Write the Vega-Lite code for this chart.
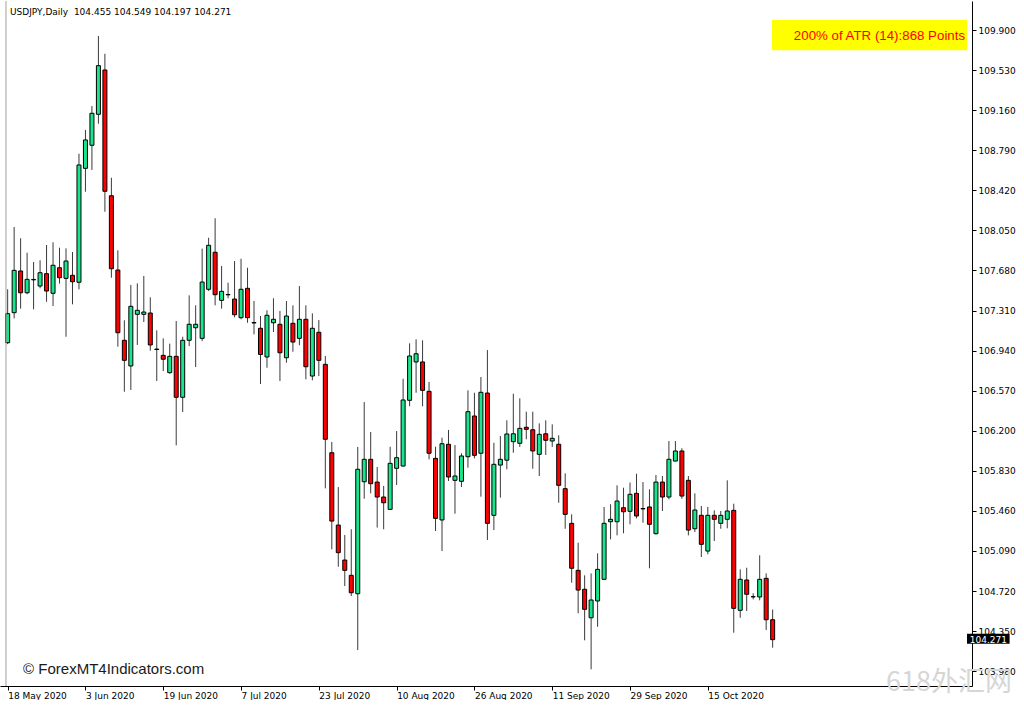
{
  "$schema": "https://vega.github.io/schema/vega-lite/v6.json",
  "width": 972,
  "height": 685,
  "padding": 0,
  "background": "white",
  "config": {"view": {"stroke": null}, "font": "DejaVu Sans"},
  "data": {"values": [
    {"i":0,"o":107.013,"h":107.506,"l":107.000,"c":107.281},
    {"i":1,"o":107.290,"h":108.081,"l":107.238,"c":107.681},
    {"i":2,"o":107.675,"h":107.977,"l":107.327,"c":107.474},
    {"i":3,"o":107.474,"h":107.844,"l":107.460,"c":107.598},
    {"i":4,"o":107.593,"h":107.758,"l":107.321,"c":107.597},
    {"i":5,"o":107.536,"h":107.774,"l":107.515,"c":107.659},
    {"i":6,"o":107.650,"h":107.915,"l":107.391,"c":107.490},
    {"i":7,"o":107.469,"h":107.940,"l":107.352,"c":107.728},
    {"i":8,"o":107.705,"h":107.890,"l":107.558,"c":107.613},
    {"i":9,"o":107.607,"h":107.884,"l":107.068,"c":107.767},
    {"i":10,"o":107.635,"h":107.850,"l":107.367,"c":107.576},
    {"i":11,"o":107.571,"h":108.758,"l":107.506,"c":108.654},
    {"i":12,"o":108.623,"h":108.977,"l":108.407,"c":108.885},
    {"i":13,"o":108.836,"h":109.198,"l":108.608,"c":109.131},
    {"i":14,"o":109.122,"h":109.845,"l":109.035,"c":109.571},
    {"i":15,"o":109.531,"h":109.681,"l":108.222,"c":108.411},
    {"i":16,"o":108.370,"h":108.536,"l":107.613,"c":107.696},
    {"i":17,"o":107.684,"h":107.866,"l":106.976,"c":107.105},
    {"i":18,"o":107.035,"h":107.220,"l":106.560,"c":106.850},
    {"i":19,"o":106.798,"h":107.546,"l":106.576,"c":107.349},
    {"i":20,"o":107.275,"h":107.561,"l":106.992,"c":107.312},
    {"i":21,"o":107.275,"h":107.629,"l":107.204,"c":107.296},
    {"i":22,"o":107.287,"h":107.432,"l":106.939,"c":106.992},
    {"i":23,"o":106.954,"h":107.127,"l":106.659,"c":106.950},
    {"i":24,"o":106.896,"h":107.053,"l":106.751,"c":106.860},
    {"i":25,"o":106.736,"h":107.004,"l":106.727,"c":106.887},
    {"i":26,"o":106.887,"h":107.213,"l":106.065,"c":106.509},
    {"i":27,"o":106.509,"h":107.068,"l":106.373,"c":107.035},
    {"i":28,"o":107.035,"h":107.450,"l":106.982,"c":107.183},
    {"i":29,"o":107.151,"h":107.358,"l":106.788,"c":107.183},
    {"i":30,"o":107.053,"h":107.881,"l":107.028,"c":107.573},
    {"i":31,"o":107.506,"h":107.982,"l":107.490,"c":107.912},
    {"i":32,"o":107.848,"h":108.162,"l":107.358,"c":107.456},
    {"i":33,"o":107.404,"h":107.721,"l":107.327,"c":107.487},
    {"i":34,"o":107.458,"h":107.567,"l":107.423,"c":107.455},
    {"i":35,"o":107.416,"h":107.767,"l":107.247,"c":107.271},
    {"i":36,"o":107.244,"h":107.788,"l":107.229,"c":107.506},
    {"i":37,"o":107.515,"h":107.705,"l":107.197,"c":107.244},
    {"i":38,"o":107.199,"h":107.398,"l":107.090,"c":107.195},
    {"i":39,"o":107.146,"h":107.259,"l":106.631,"c":106.904},
    {"i":40,"o":106.881,"h":107.312,"l":106.782,"c":107.266},
    {"i":41,"o":107.197,"h":107.423,"l":107.112,"c":107.229},
    {"i":42,"o":107.183,"h":107.306,"l":106.659,"c":106.920},
    {"i":43,"o":106.874,"h":107.398,"l":106.828,"c":107.259},
    {"i":44,"o":107.192,"h":107.358,"l":106.930,"c":107.019},
    {"i":45,"o":107.053,"h":107.536,"l":106.989,"c":107.229},
    {"i":46,"o":107.229,"h":107.358,"l":106.675,"c":106.791},
    {"i":47,"o":106.705,"h":107.284,"l":106.666,"c":107.146},
    {"i":48,"o":107.109,"h":107.222,"l":106.705,"c":106.850},
    {"i":49,"o":106.813,"h":106.890,"l":105.668,"c":106.121},
    {"i":50,"o":105.997,"h":106.096,"l":105.105,"c":105.366},
    {"i":51,"o":105.329,"h":105.680,"l":104.944,"c":105.074},
    {"i":52,"o":105.006,"h":105.237,"l":104.766,"c":104.911},
    {"i":53,"o":104.865,"h":105.290,"l":104.674,"c":104.704},
    {"i":54,"o":104.695,"h":106.050,"l":104.175,"c":105.844},
    {"i":55,"o":105.729,"h":106.465,"l":105.572,"c":105.936},
    {"i":56,"o":105.936,"h":106.188,"l":105.622,"c":105.711},
    {"i":57,"o":105.726,"h":105.865,"l":105.306,"c":105.588},
    {"i":58,"o":105.588,"h":105.690,"l":105.290,"c":105.535},
    {"i":59,"o":105.474,"h":106.052,"l":105.470,"c":105.899},
    {"i":60,"o":105.853,"h":106.197,"l":105.699,"c":105.951},
    {"i":61,"o":105.874,"h":106.680,"l":105.870,"c":106.484},
    {"i":62,"o":106.481,"h":107.007,"l":106.426,"c":106.890},
    {"i":63,"o":106.835,"h":107.044,"l":106.551,"c":106.911},
    {"i":64,"o":106.835,"h":107.035,"l":106.426,"c":106.573},
    {"i":65,"o":106.564,"h":106.650,"l":105.936,"c":105.992},
    {"i":66,"o":105.945,"h":106.052,"l":105.274,"c":105.391},
    {"i":67,"o":105.376,"h":106.136,"l":105.089,"c":106.080},
    {"i":68,"o":106.075,"h":106.207,"l":105.736,"c":105.773},
    {"i":69,"o":105.742,"h":106.068,"l":105.434,"c":105.782},
    {"i":70,"o":105.733,"h":105.992,"l":105.680,"c":105.967},
    {"i":71,"o":105.960,"h":106.573,"l":105.859,"c":106.376},
    {"i":72,"o":106.336,"h":106.551,"l":105.945,"c":105.973},
    {"i":73,"o":105.992,"h":106.696,"l":105.591,"c":106.555},
    {"i":74,"o":106.548,"h":106.945,"l":105.191,"c":105.345},
    {"i":75,"o":105.419,"h":106.089,"l":105.283,"c":105.890},
    {"i":76,"o":105.883,"h":106.151,"l":105.582,"c":105.936},
    {"i":77,"o":105.928,"h":106.296,"l":105.844,"c":106.170},
    {"i":78,"o":106.099,"h":106.542,"l":105.997,"c":106.172},
    {"i":79,"o":106.084,"h":106.499,"l":106.050,"c":106.222},
    {"i":80,"o":106.232,"h":106.376,"l":106.121,"c":106.213},
    {"i":81,"o":106.209,"h":106.376,"l":105.849,"c":106.013},
    {"i":82,"o":105.982,"h":106.268,"l":105.782,"c":106.167},
    {"i":83,"o":106.172,"h":106.296,"l":105.976,"c":106.112},
    {"i":84,"o":106.105,"h":106.259,"l":106.050,"c":106.130},
    {"i":85,"o":106.075,"h":106.158,"l":105.535,"c":105.696},
    {"i":86,"o":105.665,"h":105.807,"l":105.295,"c":105.428},
    {"i":87,"o":105.345,"h":105.428,"l":104.797,"c":104.930},
    {"i":88,"o":104.911,"h":105.166,"l":104.514,"c":104.729},
    {"i":89,"o":104.736,"h":104.865,"l":104.265,"c":104.551},
    {"i":90,"o":104.473,"h":104.883,"l":103.997,"c":104.637},
    {"i":91,"o":104.628,"h":105.068,"l":104.390,"c":104.920},
    {"i":92,"o":104.828,"h":105.496,"l":104.825,"c":105.345},
    {"i":93,"o":105.360,"h":105.521,"l":105.197,"c":105.382},
    {"i":94,"o":105.360,"h":105.696,"l":105.234,"c":105.551},
    {"i":95,"o":105.489,"h":105.674,"l":105.253,"c":105.452},
    {"i":96,"o":105.456,"h":105.722,"l":105.336,"c":105.613},
    {"i":97,"o":105.622,"h":105.803,"l":105.391,"c":105.413},
    {"i":98,"o":105.482,"h":105.726,"l":105.351,"c":105.478},
    {"i":99,"o":105.496,"h":105.659,"l":104.930,"c":105.336},
    {"i":100,"o":105.249,"h":105.791,"l":105.243,"c":105.726},
    {"i":101,"o":105.726,"h":105.782,"l":105.459,"c":105.588},
    {"i":102,"o":105.588,"h":106.105,"l":105.567,"c":105.936},
    {"i":103,"o":105.920,"h":106.105,"l":105.918,"c":106.013},
    {"i":104,"o":106.013,"h":106.038,"l":105.572,"c":105.597},
    {"i":105,"o":105.742,"h":105.782,"l":105.234,"c":105.283},
    {"i":106,"o":105.295,"h":105.622,"l":105.265,"c":105.468},
    {"i":107,"o":105.419,"h":105.505,"l":105.034,"c":105.151},
    {"i":108,"o":105.089,"h":105.496,"l":105.059,"c":105.419},
    {"i":109,"o":105.419,"h":105.465,"l":105.182,"c":105.382},
    {"i":110,"o":105.345,"h":105.459,"l":105.295,"c":105.419},
    {"i":111,"o":105.382,"h":105.742,"l":105.299,"c":105.459},
    {"i":112,"o":105.465,"h":105.526,"l":104.335,"c":104.560},
    {"i":113,"o":104.542,"h":104.920,"l":104.473,"c":104.828},
    {"i":114,"o":104.822,"h":104.935,"l":104.535,"c":104.690},
    {"i":115,"o":104.668,"h":104.699,"l":104.643,"c":104.666},
    {"i":116,"o":104.665,"h":105.050,"l":104.634,"c":104.828},
    {"i":117,"o":104.837,"h":104.883,"l":104.360,"c":104.455},
    {"i":118,"o":104.455,"h":104.549,"l":104.197,"c":104.271}
  ]},
  "layer": [
    {
      "mark": {"type": "rule", "color": "#3a3a3a", "strokeWidth": 1},
      "encoding": {
        "x": {"field": "i", "type": "quantitative",
              "scale": {"domain": [-0.41, 147.98], "nice": false, "zero": false},
              "axis": {"values": [0,12,24,36,48,60,72,84,96,108],
                       "labelExpr": "['18 May 2020','3 Jun 2020','19 Jun 2020','7 Jul 2020','23 Jul 2020','10 Aug 2020','26 Aug 2020','11 Sep 2020','29 Sep 2020','15 Oct 2020'][round(datum.value/12)]",
                       "labelAlign": "left", "labelFont": "DejaVu Sans", "labelFontSize": 9, "labelColor": "#000",
                       "labelPadding": 1, "labelOverlap": false, "labelFlush": false,
                       "tickColor": "#000", "tickSize": 4, "domainColor": "#000", "grid": false, "title": null}},
        "y": {"field": "l", "type": "quantitative",
              "scale": {"domain": [103.843, 110.168], "nice": false, "zero": false},
              "axis": {"orient": "right",
                       "values": [109.9,109.53,109.16,108.79,108.42,108.05,107.68,107.31,106.94,106.57,106.2,105.83,105.46,105.09,104.72,104.35,103.98],
                       "format": ".3f", "labelFont": "DejaVu Sans", "labelFontSize": 9, "labelColor": "#000",
                       "labelPadding": 2, "labelOverlap": false, "labelFlush": false,
                       "tickColor": "#000", "tickSize": 4, "domainColor": "#000", "grid": false, "title": null}},
        "y2": {"field": "h"}
      }
    },
    {
      "mark": {"type": "bar", "width": 4, "stroke": "#000", "strokeWidth": 1},
      "encoding": {
        "x": {"field": "i", "type": "quantitative"},
        "y": {"field": "o", "type": "quantitative"},
        "y2": {"field": "c"},
        "fill": {"condition": {"test": "datum.c >= datum.o", "value": "#19e68c"}, "value": "#ff0000"}
      }
    },
    {
      "data": {"values": [{"k": "border"}]},
      "mark": {"type": "rule", "color": "#a0a0a0", "strokeWidth": 1},
      "encoding": {"x": {"datum": -0.26, "type": "quantitative"}}
    },
    {
      "data": {"values": [{"t": "USDJPY,Daily\u00a0\u00a0104.455 104.549 104.197 104.271"}]},
      "mark": {"type": "text", "align": "left", "baseline": "middle", "font": "DejaVu Sans", "fontSize": 9, "color": "#000"},
      "encoding": {"x": {"datum": 0.35, "type": "quantitative"}, "y": {"datum": 110.066, "type": "quantitative"}, "text": {"field": "t"}}
    },
    {
      "data": {"values": [{"t": "atr"}]},
      "mark": {"type": "rect", "color": "#ffff00"},
      "encoding": {"x": {"datum": 117.9, "type": "quantitative"}, "x2": {"datum": 147.98}, "y": {"datum": 109.992, "type": "quantitative"}, "y2": {"datum": 109.713}}
    },
    {
      "data": {"values": [{"t": "200% of ATR (14):868 Points"}]},
      "mark": {"type": "text", "align": "left", "baseline": "middle", "font": "Liberation Sans", "fontSize": 13.3, "color": "#ff0000"},
      "encoding": {"x": {"datum": 121.27, "type": "quantitative"}, "y": {"datum": 109.845, "type": "quantitative"}, "text": {"field": "t"}}
    },
    {
      "data": {"values": [{"t": "© ForexMT4Indicators.com"}]},
      "mark": {"type": "text", "align": "left", "baseline": "middle", "font": "Liberation Sans", "fontSize": 15, "color": "#1a1a1a"},
      "encoding": {"x": {"datum": 2.38, "type": "quantitative"}, "y": {"datum": 104.0, "type": "quantitative"}, "text": {"field": "t"}}
    },
    {
      "data": {"values": [{"t": "104.271"}]},
      "mark": {"type": "rect", "color": "#000"},
      "encoding": {"x": {"datum": 147.98, "type": "quantitative"}, "x2": {"datum": 154.55}, "y": {"datum": 104.326, "type": "quantitative"}, "y2": {"datum": 104.232}}
    },
    {
      "data": {"values": [{"t": "104.271", "p": 104.271}]},
      "mark": {"type": "text", "align": "center", "baseline": "middle", "font": "DejaVu Sans", "fontSize": 9, "color": "#fff"},
      "encoding": {"x": {"datum": 151.27, "type": "quantitative"}, "y": {"field": "p", "type": "quantitative"}, "text": {"field": "t"}}
    },
    {
      "data": {"values": [{"t": "618外汇网"}]},
      "mark": {"type": "text", "align": "center", "baseline": "middle", "font": "Noto Sans CJK SC", "fontSize": 27, "color": "#d6d6d6"},
      "encoding": {"x": {"datum": 145.2, "type": "quantitative"}, "y": {"datum": 103.87, "type": "quantitative"}, "text": {"field": "t"}}
    }
  ]
}
